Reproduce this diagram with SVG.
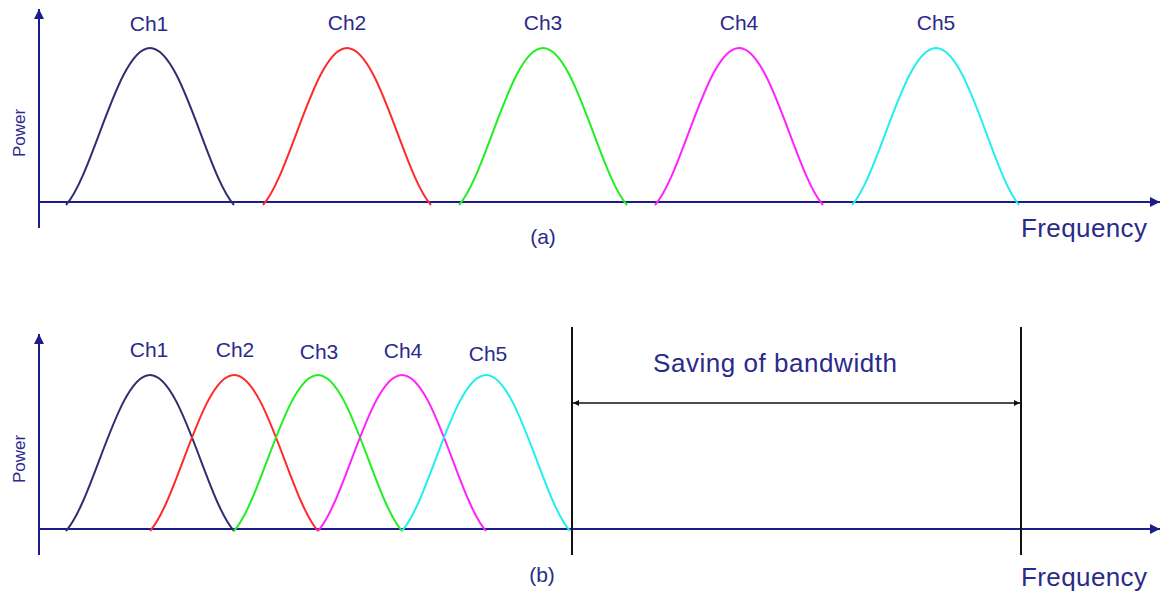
<svg xmlns="http://www.w3.org/2000/svg" width="1161" height="592" viewBox="0 0 1161 592">
<style>
.ax{stroke:#1c1c8a;stroke-width:2;fill:none}
.cv{fill:none;stroke-width:2}
.lbl{font-family:"Liberation Sans",Arial,sans-serif;fill:#2a2a8c}
.ch{font-size:21px;text-anchor:middle}
.pw{font-size:17px;text-anchor:middle}
.fq{font-size:26px}
.cap{font-size:21px;text-anchor:middle}
.vl{stroke:#111;stroke-width:2}
</style>
<defs>
<marker id="ah" viewBox="0 0 10 10" refX="10" refY="5" markerWidth="10" markerHeight="10" markerUnits="userSpaceOnUse" orient="auto-start-reverse">
<path d="M0,0 L10,5 L0,10 z" fill="#1c1c8a"/>
</marker>
<marker id="bh" viewBox="0 0 10 10" refX="10" refY="5" markerWidth="9" markerHeight="6" markerUnits="userSpaceOnUse" orient="auto-start-reverse">
<path d="M0,0 L10,5 L0,10 z" fill="#111"/>
</marker>
</defs>
<rect width="1161" height="592" fill="#fff"/>

<g id="panel-a-axes">
<line class="ax" x1="39" y1="228" x2="39" y2="9" marker-end="url(#ah)"/>
<line class="ax" x1="39" y1="202" x2="1160" y2="202" marker-end="url(#ah)"/>
<text class="lbl pw" transform="translate(25,133) rotate(-90)">Power</text>
<text class="lbl fq" x="1021" y="237" textLength="126">Frequency</text>
<text class="lbl cap" x="543" y="244">(a)</text>
</g>

<g id="panel-a-ch1"><path class="cv" stroke="#2e2e70" d="M66,205 C93.7,173.6 118.1,48 150,48 C181.9,48 206.3,173.6 234,205"/><text class="lbl ch" x="149" y="31">Ch1</text></g>
<g id="panel-a-ch2"><path class="cv" stroke="#ff2a2a" d="M263,205 C290.7,173.6 315.1,48 347,48 C378.9,48 403.3,173.6 431,205"/><text class="lbl ch" x="347" y="30">Ch2</text></g>
<g id="panel-a-ch3"><path class="cv" stroke="#22ee22" d="M459,205 C486.7,173.6 511.1,48 543,48 C574.9,48 599.3,173.6 627,205"/><text class="lbl ch" x="543" y="30">Ch3</text></g>
<g id="panel-a-ch4"><path class="cv" stroke="#ff22ff" d="M655,205 C682.7,173.6 707.1,48 739,48 C770.9,48 795.3,173.6 823,205"/><text class="lbl ch" x="739" y="30">Ch4</text></g>
<g id="panel-a-ch5"><path class="cv" stroke="#22eeee" d="M852,205 C879.7,173.6 904.1,48 936,48 C967.9,48 992.3,173.6 1019,205"/><text class="lbl ch" x="936" y="30">Ch5</text></g>

<g id="panel-b-axes">
<line class="ax" x1="39" y1="555" x2="39" y2="334" marker-end="url(#ah)"/>
<line class="ax" x1="39" y1="529" x2="1160" y2="529" marker-end="url(#ah)"/>
<text class="lbl pw" transform="translate(25,459) rotate(-90)">Power</text>
<text class="lbl fq" x="1021" y="586" textLength="126">Frequency</text>
<text class="lbl cap" x="542" y="582">(b)</text>
</g>

<g id="panel-b-ch1"><path class="cv" stroke="#2e2e70" d="M66,531 C93.7,499.8 118.1,375 150,375 C181.9,375 206.3,499.8 234,531"/><text class="lbl ch" x="149" y="357">Ch1</text></g>
<g id="panel-b-ch2"><path class="cv" stroke="#ff2a2a" d="M150,531 C177.7,499.8 202.1,375 234,375 C265.9,375 290.3,499.8 318,531"/><text class="lbl ch" x="235" y="357">Ch2</text></g>
<g id="panel-b-ch3"><path class="cv" stroke="#22ee22" d="M234,531 C261.7,499.8 286.1,375 318,375 C349.9,375 374.3,499.8 402,531"/><text class="lbl ch" x="319" y="359">Ch3</text></g>
<g id="panel-b-ch4"><path class="cv" stroke="#ff22ff" d="M318,531 C345.7,499.8 370.1,375 402,375 C433.9,375 458.3,499.8 486,531"/><text class="lbl ch" x="403" y="358">Ch4</text></g>
<g id="panel-b-ch5"><path class="cv" stroke="#22eeee" d="M402,531 C429.7,499.8 454.1,375 486,375 C517.9,375 542.3,499.8 570,531"/><text class="lbl ch" x="488" y="361">Ch5</text></g>

<g id="bandwidth-markers">
<line class="vl" x1="572" y1="327" x2="572" y2="555"/>
<line class="vl" x1="1021" y1="327" x2="1021" y2="555"/>
<text class="lbl" x="653" y="372" font-size="26" textLength="244">Saving of bandwidth</text>
</g>

<g id="connectors">
<line x1="573" y1="403" x2="1020" y2="403" stroke="#111" stroke-width="1.5" marker-start="url(#bh)" marker-end="url(#bh)"/>
</g>
</svg>
